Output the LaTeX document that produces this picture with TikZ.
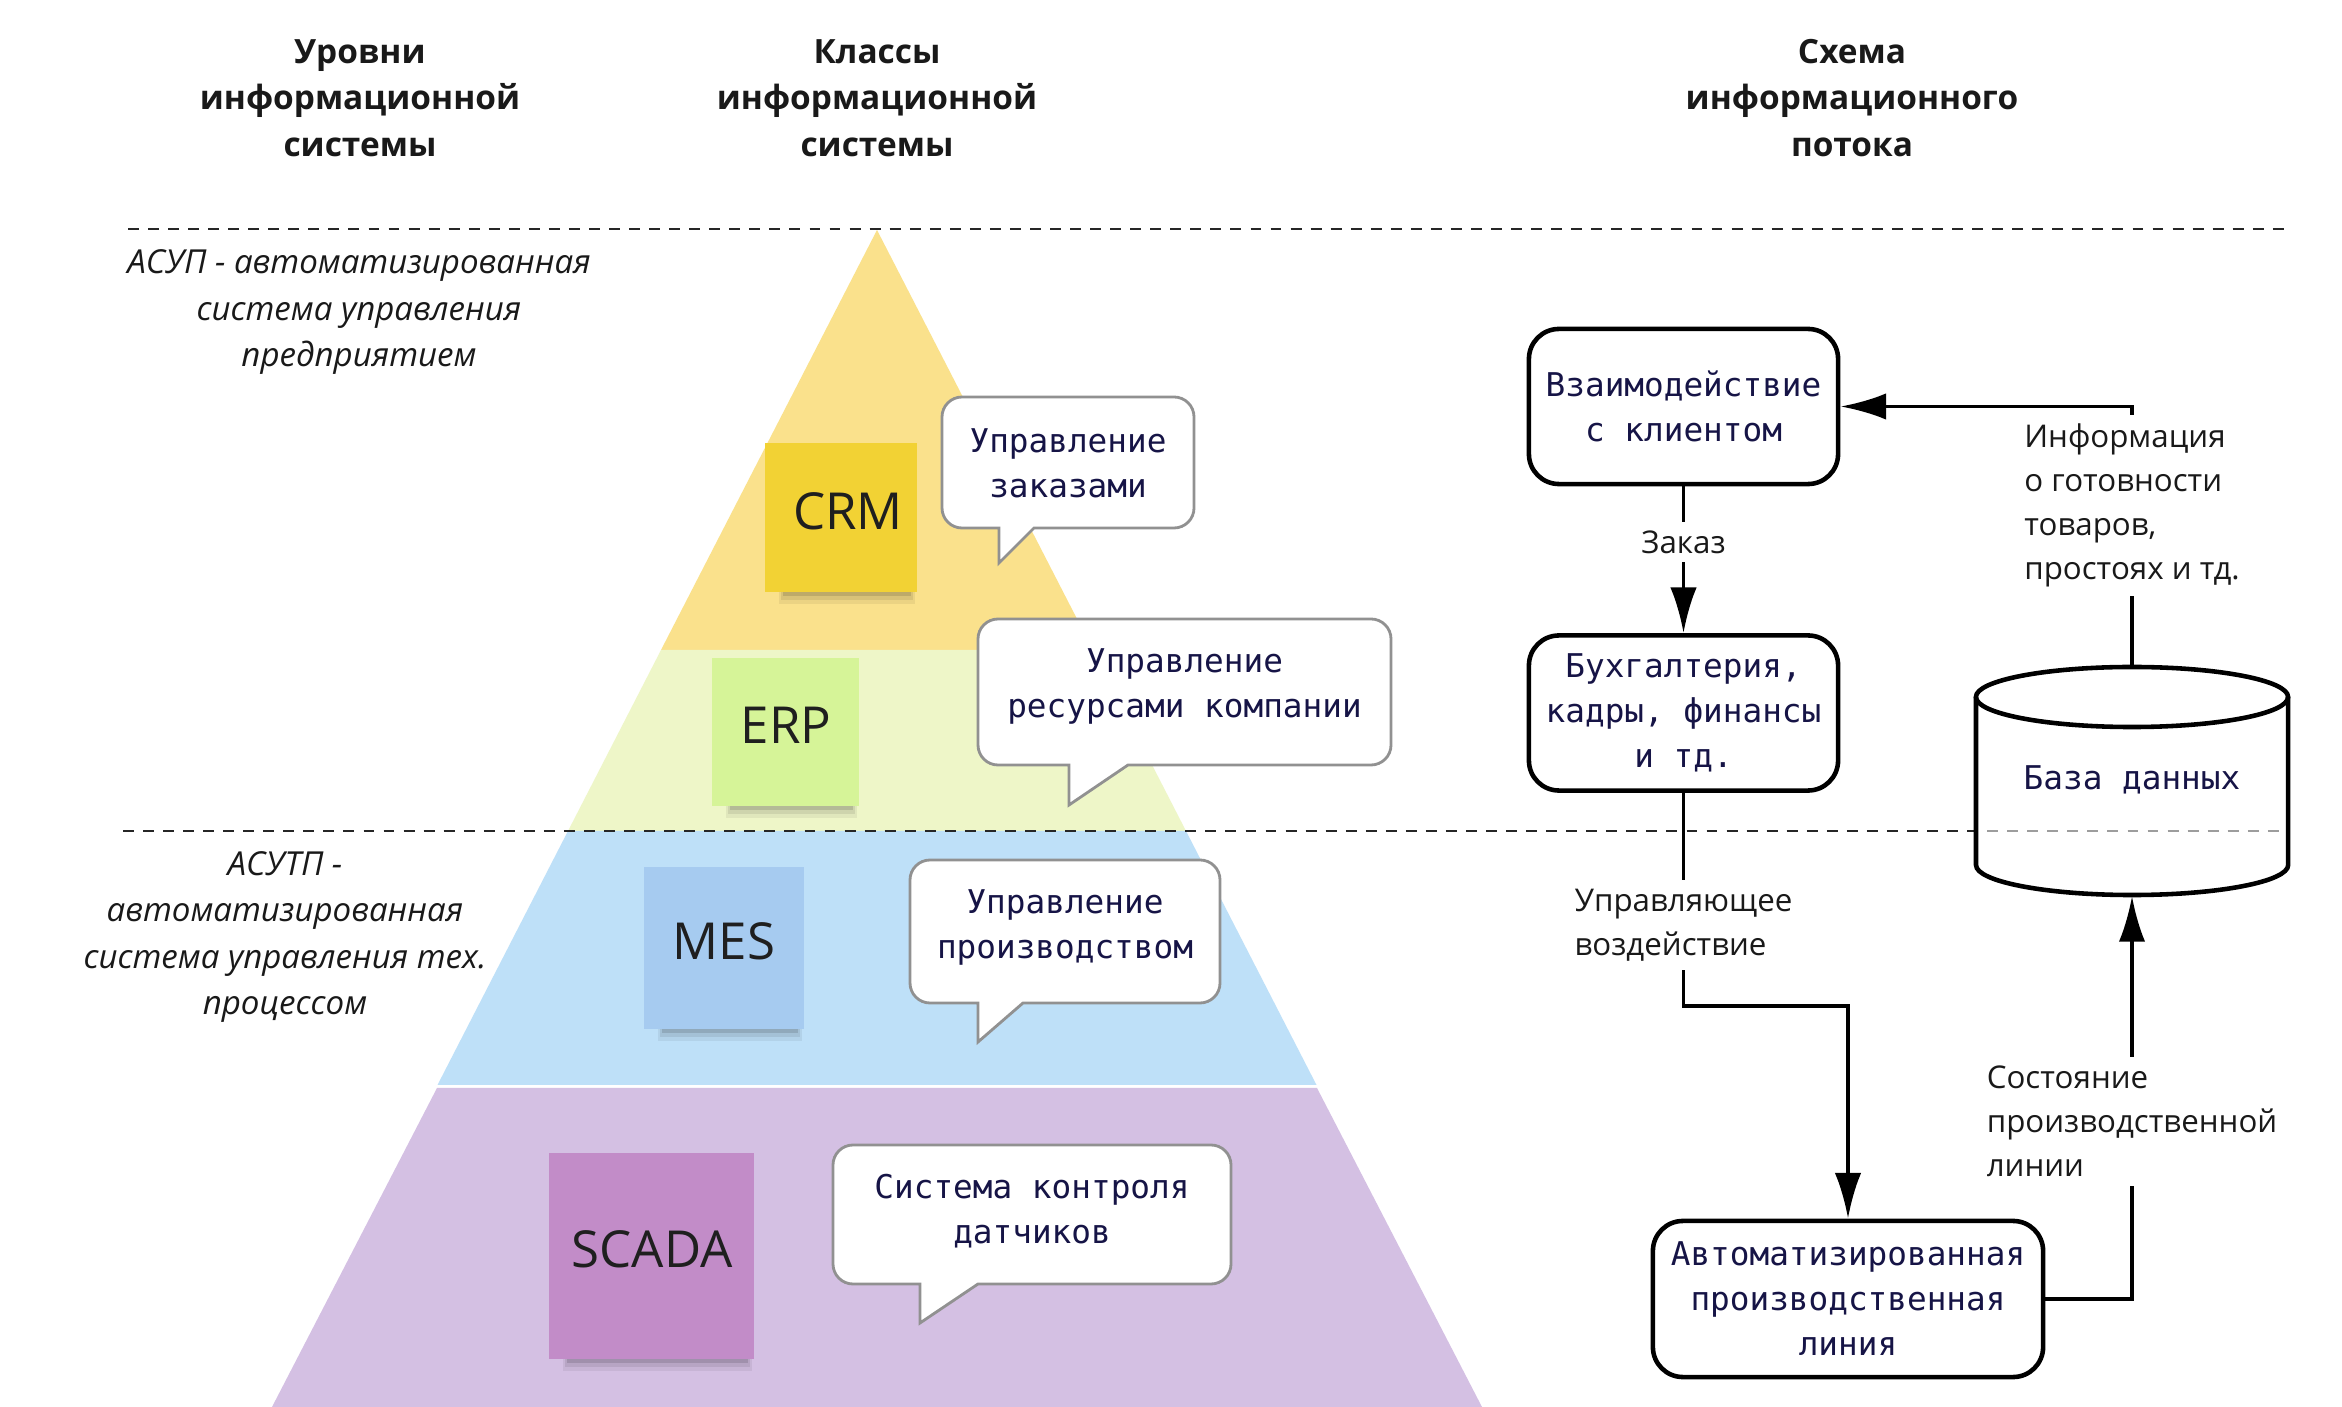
\documentclass[tikz,border=0pt]{standalone}
\usepackage{fontspec}
\setmainfont{Open Sans}
\newfontfamily\monof{DejaVu Sans Mono}
\usetikzlibrary{arrows.meta}
\definecolor{bandY}{RGB}{250,225,140}
\definecolor{bandG}{RGB}{238,246,200}
\definecolor{bandB}{RGB}{190,224,248}
\definecolor{bandP}{RGB}{212,192,227}
\definecolor{noteY}{RGB}{242,210,52}
\definecolor{noteG}{RGB}{214,244,152}
\definecolor{noteB}{RGB}{166,203,240}
\definecolor{noteP}{RGB}{194,140,200}
\definecolor{navy}{RGB}{22,20,70}
\definecolor{bubbleedge}{RGB}{145,145,145}
\newcommand\mybubble[7]{%
  \draw[bubblestyle] (#5,#4) -- (#5,#7) -- (#6,#4) -- ({#3-20},#4)
    arc[start angle=270,end angle=360,radius=0.2cm] -- (#3,{#2+20})
    arc[start angle=0,end angle=90,radius=0.2cm] -- ({#1+20},#2)
    arc[start angle=90,end angle=180,radius=0.2cm] -- (#1,{#4-20})
    arc[start angle=180,end angle=270,radius=0.2cm] -- cycle;}
\newcommand\noteshadow[3]{%
  \fill[black,opacity=0.06] ({#1+14},{#3-2}) rectangle ({#2-2},{#3+12});
  \fill[black,opacity=0.08] ({#1+16},{#3-2}) rectangle ({#2-4},{#3+8});
  \fill[black,opacity=0.12] ({#1+18},{#3-2}) rectangle ({#2-6},{#3+4});}
\begin{document}
\begin{tikzpicture}[x=0.01cm,y=-0.01cm,
  heading/.style={font=\bfseries\fontsize{9.5}{13.2}\selectfont, align=center, text=black!90},
  itext/.style={font=\itshape\fontsize{9.4}{13.2}\selectfont, align=center, text=black!90},
  notebox/.style={inner sep=0pt, draw=none},
  notetext/.style={font=\fontsize{14.5}{16}\selectfont, text=black!88},
  bubblestyle/.style={fill=white, draw=bubbleedge, line width=0.8pt},
  bubtext/.style={font=\monof\fontsize{9.3}{12.8}\selectfont, text=navy, align=center},
  flowbox/.style={draw=black, line width=1.3pt, rounded corners=0.3cm, fill=white,
    font=\monof\fontsize{9.3}{12.8}\selectfont, text=navy, align=center,
    minimum width=3.09cm, minimum height=1.55cm, inner sep=0pt},
  lab/.style={fill=white, font=\fontsize{8.9}{12.5}\selectfont, align=left, inner sep=2.5pt, text=black!90},
  conn/.style={line width=1.1pt, draw=black},
  arr/.style={conn, -{Latex[length=13pt,width=7.5pt]}},
  sep/.style={dash pattern=on 3.1pt off 2.6pt, line width=0.6pt, draw=black!85}]
\useasboundingbox (0,0) rectangle (2342,1407);
\fill[white] (0,0) rectangle (2342,1407);

% headings
\node[heading] (h1) at (360,98) {Уровни\\информационной\\системы};
\node[heading] (h2) at (877,98) {Классы\\информационной\\системы};
\node[heading] (h3) at (1852,98) {Схема\\информационного\\потока};

% pyramid bands
\fill[bandY] (877,230) -- (661,650) -- (1093,650) -- cycle;
\fill[bandG] (661,650) -- (568,831) -- (1186,831) -- (1093,650) -- cycle;
\fill[bandB] (568,831) -- (437.5,1085) -- (1316.5,1085) -- (1186,831) -- cycle;
\fill[bandP] (437,1088) -- (272,1407) -- (1482,1407) -- (1317,1088) -- cycle;

% dashed separators
\draw[sep] (128,229) -- (2290,229);
\draw[sep] (123,831) -- (2290,831);

% level descriptions
\node[itext] (asup) at (359,312) {АСУП - автоматизированная\\система управления\\предприятием};
\node[itext] (asutp) at (285,937) {АСУТП -\\автоматизированная\\система управления тех.\\процессом};

% sticky notes
\noteshadow{765}{917}{592}
\node[notebox, fill=noteY, minimum width=1.52cm, minimum height=1.49cm] (crm) at (841,517.5) {};
\node[notetext] (crmt) at (848,511) {CRM};
\noteshadow{712}{859}{806}
\node[notebox, fill=noteG, minimum width=1.47cm, minimum height=1.48cm] (erp) at (785.5,732) {};
\node[notetext] (erpt) at (786,725) {ERP};
\noteshadow{644}{804}{1029}
\node[notebox, fill=noteB, minimum width=1.60cm, minimum height=1.62cm] (mes) at (724,948) {};
\node[notetext] (mest) at (724,941) {MES};
\noteshadow{549}{754}{1359}
\node[notebox, fill=noteP, minimum width=2.05cm, minimum height=2.06cm] (scada) at (651.5,1256) {};
\node[notetext] (scadat) at (652,1249) {SCADA};

% speech bubbles
\mybubble{942}{397}{1194}{528}{999}{1034}{563}
\node[bubtext] (b1) at (1068,463) {Управление\\заказами};
\mybubble{978}{619}{1391}{765}{1069}{1128}{805}
\node[bubtext] (b2) at (1184.5,686) {Управление\\ресурсами компании};
\mybubble{910}{860}{1220}{1003}{978}{1023}{1042}
\node[bubtext] (b3) at (1065,927) {Управление\\производством};
\mybubble{833}{1145}{1231}{1284}{920}{978}{1323}
\node[bubtext] (b4) at (1032,1211) {Система контроля\\датчиков};

% database cylinder
\fill[white,opacity=0.55] (1976,697) -- (1976,865)
  arc[start angle=180,end angle=360,x radius=1.56cm,y radius=0.3cm] -- (2288,697)
  arc[start angle=0,end angle=180,x radius=1.56cm,y radius=0.3cm] -- cycle;
\draw[line width=1.3pt] (1976,697) -- (1976,865)
  arc[start angle=180,end angle=360,x radius=1.56cm,y radius=0.3cm] -- (2288,697);
\draw[line width=1.3pt] (2132,697) ellipse [x radius=1.56cm, y radius=0.3cm];
\node[bubtext] (db) at (2132,780) {База данных};
\coordinate (dbtop) at (2132,667);
\coordinate (dbbot) at (2132,896);

% flow boxes
\node[flowbox] (A) at (1683.5,406.5) {Взаимодействие\\с клиентом};
\node[flowbox] (B) at (1683.5,713) {Бухгалтерия,\\кадры, финансы\\и тд.};
\node[flowbox, minimum width=3.9cm, minimum height=1.56cm] (C) at (1848,1299) {Автоматизированная\\производственная\\линия};

% connectors
\draw[arr] (A.south) -- node[lab, pos=0.38] (l1) {Заказ} (B.north);
\coordinate (t1) at (1683.5,1006);
\draw[arr] (B.south) -- node[lab, pos=0.62] (l2) {Управляющее\\воздействие} (t1) -| (C.north);
\coordinate (t2) at (C.east -| dbbot);
\draw[arr] (C.east) -- (t2) -- node[lab, pos=0.44] (l3) {Состояние\\производственной\\линии} (dbbot);
\coordinate (t3) at (dbtop |- A.east);
\draw[arr] (dbtop) -- node[lab, pos=0.62] (l4) {Информация\\о готовности\\товаров,\\простоях и тд.} (t3) -- (A.east);
\end{tikzpicture}
\end{document}
